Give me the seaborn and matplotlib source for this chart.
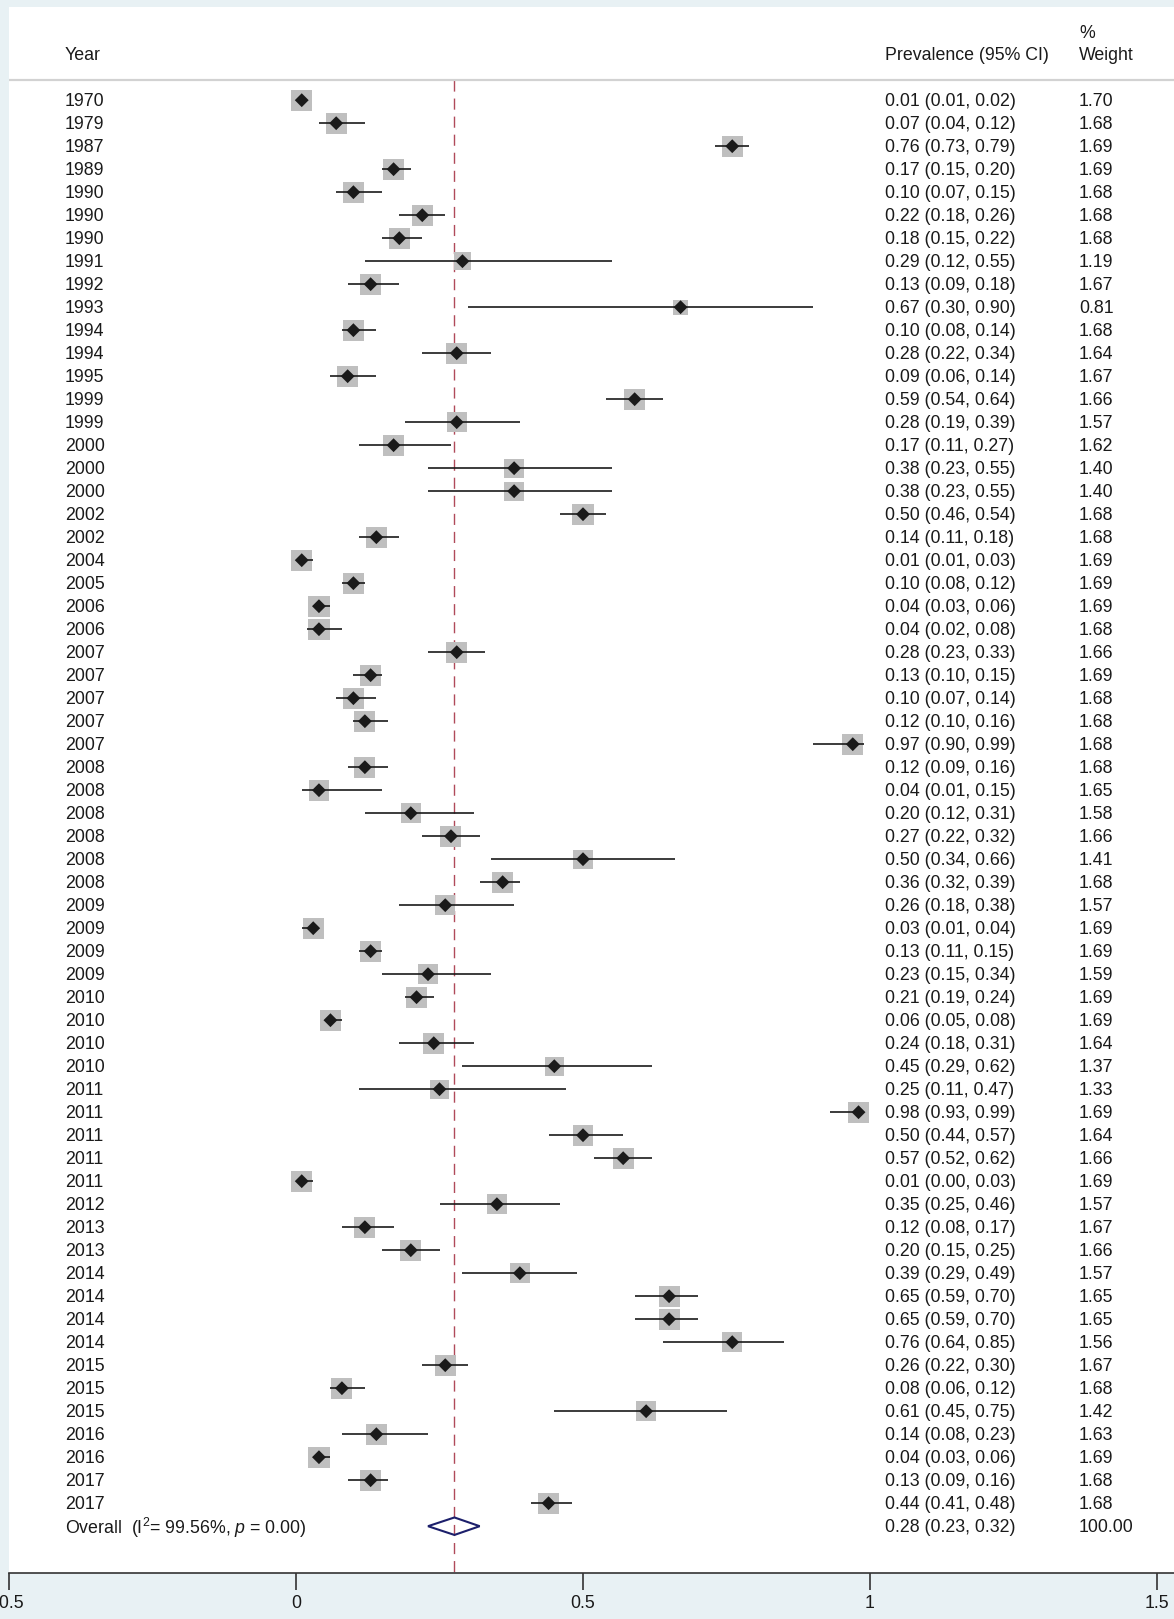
import matplotlib
matplotlib.use("Agg")
import matplotlib.pyplot as plt
import seaborn as sns
import pandas as pd

# --- dados ---
anos = [1970, 1979, 1987, 1989, 1990, 1990, 1990, 1991, 1992, 1993,
        1994, 1994, 1995, 1999, 1999, 2000, 2000, 2000, 2002, 2002,
        2004, 2005, 2006, 2006, 2007, 2007, 2007, 2007, 2007, 2008,
        2008, 2008, 2008, 2008, 2008, 2009, 2009, 2009, 2009, 2010,
        2010, 2010, 2010, 2011, 2011, 2011, 2011, 2011, 2012, 2013,
        2013, 2014, 2014, 2014, 2014, 2015, 2015, 2015, 2016, 2016,
        2017, 2017]
prev = [0.01, 0.07, 0.76, 0.17, 0.10, 0.22, 0.18, 0.29, 0.13, 0.67,
        0.10, 0.28, 0.09, 0.59, 0.28, 0.17, 0.38, 0.38, 0.50, 0.14,
        0.01, 0.10, 0.04, 0.04, 0.28, 0.13, 0.10, 0.12, 0.97, 0.12,
        0.04, 0.20, 0.27, 0.50, 0.36, 0.26, 0.03, 0.13, 0.23, 0.21,
        0.06, 0.24, 0.45, 0.25, 0.98, 0.50, 0.57, 0.01, 0.35, 0.12,
        0.20, 0.39, 0.65, 0.65, 0.76, 0.26, 0.08, 0.61, 0.14, 0.04,
        0.13, 0.44]
ic_inf = [0.01, 0.04, 0.73, 0.15, 0.07, 0.18, 0.15, 0.12, 0.09, 0.30,
          0.08, 0.22, 0.06, 0.54, 0.19, 0.11, 0.23, 0.23, 0.46, 0.11,
          0.01, 0.08, 0.03, 0.02, 0.23, 0.10, 0.07, 0.10, 0.90, 0.09,
          0.01, 0.12, 0.22, 0.34, 0.32, 0.18, 0.01, 0.11, 0.15, 0.19,
          0.05, 0.18, 0.29, 0.11, 0.93, 0.44, 0.52, 0.00, 0.25, 0.08,
          0.15, 0.29, 0.59, 0.59, 0.64, 0.22, 0.06, 0.45, 0.08, 0.03,
          0.09, 0.41]
ic_sup = [0.02, 0.12, 0.79, 0.20, 0.15, 0.26, 0.22, 0.55, 0.18, 0.90,
          0.14, 0.34, 0.14, 0.64, 0.39, 0.27, 0.55, 0.55, 0.54, 0.18,
          0.03, 0.12, 0.06, 0.08, 0.33, 0.15, 0.14, 0.16, 0.99, 0.16,
          0.15, 0.31, 0.32, 0.66, 0.39, 0.38, 0.04, 0.15, 0.34, 0.24,
          0.08, 0.31, 0.62, 0.47, 0.99, 0.57, 0.62, 0.03, 0.46, 0.17,
          0.25, 0.49, 0.70, 0.70, 0.85, 0.30, 0.12, 0.75, 0.23, 0.06,
          0.16, 0.48]
pesos = [1.70, 1.68, 1.69, 1.69, 1.68, 1.68, 1.68, 1.19, 1.67, 0.81,
         1.68, 1.64, 1.67, 1.66, 1.57, 1.62, 1.40, 1.40, 1.68, 1.68,
         1.69, 1.69, 1.69, 1.68, 1.66, 1.69, 1.68, 1.68, 1.68, 1.68,
         1.65, 1.58, 1.66, 1.41, 1.68, 1.57, 1.69, 1.69, 1.59, 1.69,
         1.69, 1.64, 1.37, 1.33, 1.69, 1.64, 1.66, 1.69, 1.57, 1.67,
         1.66, 1.57, 1.65, 1.65, 1.56, 1.67, 1.68, 1.42, 1.63, 1.69,
         1.68, 1.68]

geral = (0.276, 0.23, 0.32)   # estimativa, IC inferior, IC superior
i2_txt = "99.56%"
p_txt = "0.00"

df = pd.DataFrame({"ano": anos, "prev": prev, "lo": ic_inf, "hi": ic_sup, "peso": pesos})
df["linha"] = range(len(df))
n = len(df)

# --- figura ---
W, H = 1174, 1619
sns.set_style("white")
plt.rcParams["font.family"] = ["Liberation Sans", "DejaVu Sans"]
plt.rcParams["mathtext.fontset"] = "custom"
plt.rcParams["mathtext.rm"] = "Liberation Sans"
plt.rcParams["mathtext.it"] = "Liberation Sans:italic"
plt.rcParams["axes.unicode_minus"] = False

fs = 12.8
cor_txt = "#1a1a1a"
fig = plt.figure(figsize=(W / 100, H / 100), dpi=100, facecolor="#e8f1f4")
left_px, top_px, bot_px = 9, 7, 1573
ax = fig.add_axes([left_px / W, 1 - bot_px / H, 1 - left_px / W, (bot_px - top_px) / H])
ax.set_facecolor("white")

x_min = -0.5
unit = 574.0
x_max = x_min + (W - left_px) / unit
row0, step = 100.2, 23.0
y_top = (top_px - row0) / step
y_bot = (bot_px - row0) / step
ax.set_xlim(x_min, x_max)
ax.set_ylim(y_bot, y_top)

def px2x(p):
    return x_min + (p - left_px) / unit

def px2y(p):
    return (p - row0) / step

# caixas cinza (área proporcional ao peso)
sns.scatterplot(data=df, x="prev", y="linha", size="peso", sizes=(0, 275), size_norm=(0, 2),
                marker="s", color="#bfbfbf", edgecolor="none", linewidth=0, legend=False,
                ax=ax, zorder=2)
# intervalos de confiança
ax.hlines(df["linha"], df["lo"], df["hi"], color=cor_txt, lw=1.2, zorder=3)
# pontos
sns.scatterplot(data=df, x="prev", y="linha", marker="D", s=50, color=cor_txt,
                edgecolor="none", linewidth=0, legend=False, ax=ax, zorder=4)

# diamante global
est, lo, hi = geral
ax.fill([lo, est, hi, est, lo], [n, n - 0.38, n, n + 0.38, n], facecolor="none",
        edgecolor="#1c1f6b", lw=1.5, zorder=4)

# linha tracejada da estimativa global
rule_y = px2y(80.5)
ax.vlines(est, rule_y, y_bot, color="#b04a5a", lw=1.0, linestyles=(0, (8, 5)), zorder=1)
ax.axhline(rule_y, color="#d2d2d2", lw=1.6, zorder=1)

# textos
x_ano, x_prev, x_peso = px2x(65), px2x(885), px2x(1079)
dy = 0.07
ax.text(x_ano, px2y(54) + dy, "Year", fontsize=fs, va="center", color=cor_txt)
ax.text(x_prev, px2y(54) + dy, "Prevalence (95% CI)", fontsize=fs, va="center", color=cor_txt)
ax.text(x_peso, px2y(32) + dy, "%", fontsize=fs, va="center", color=cor_txt)
ax.text(x_peso, px2y(54) + dy, "Weight", fontsize=fs, va="center", color=cor_txt)

for i in range(n):
    ax.text(x_ano, i + dy, str(anos[i]), fontsize=fs, va="center", color=cor_txt)
    ax.text(x_prev, i + dy, f"{prev[i]:.2f} ({ic_inf[i]:.2f}, {ic_sup[i]:.2f})", fontsize=fs,
            va="center", color=cor_txt)
    ax.text(x_peso, i + dy, f"{pesos[i]:.2f}", fontsize=fs, va="center", color=cor_txt)

ax.text(x_ano, n + dy, r"Overall  (I$^{2}$= " + i2_txt + r", $p$ = " + p_txt + ")",
        fontsize=fs, va="center", color=cor_txt)
ax.text(x_prev, n + dy, f"{est:.2f} ({lo:.2f}, {hi:.2f})", fontsize=fs, va="center", color=cor_txt)
ax.text(x_peso, n + dy, "100.00", fontsize=fs, va="center", color=cor_txt)

# eixo x
for s in ["top", "right", "left"]:
    ax.spines[s].set_visible(False)
ax.spines["bottom"].set_color("#333333")
ax.spines["bottom"].set_linewidth(1.2)
ax.set_yticks([])
ax.set_xticks([-0.5, 0, 0.5, 1, 1.5])
ax.set_xticklabels(["-0.5", "0", "0.5", "1", "1.5"])
ax.tick_params(axis="x", direction="out", length=12, width=1.2, color="#333333",
               labelsize=fs, labelcolor=cor_txt, pad=4, bottom=True)
ax.set_xlabel("")
ax.set_ylabel("")

fig.savefig("out.png", dpi=100, facecolor=fig.get_facecolor())
